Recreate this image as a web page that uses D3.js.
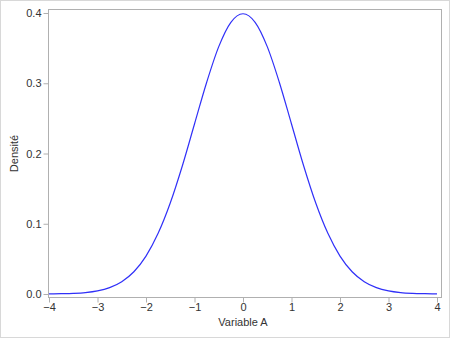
<!DOCTYPE html>
<html>
<head>
<meta charset="utf-8">
<script src="https://cdn.jsdelivr.net/npm/d3@7"></script>
<style>
  body { margin: 0; background: #fff; }
  svg { display: block; font-family: "Liberation Sans", Arial, sans-serif; }
</style>
</head>
<body>
<div id="chart"></div>
<script>
// --- valeurs
const xValues = [-4, -3.75, -3.5, -3.25, -3, -2.75, -2.5, -2.25, -2, -1.75, -1.5, -1.25, -1, -0.75, -0.5, -0.25,
                 0, 0.25, 0.5, 0.75, 1, 1.25, 1.5, 1.75, 2, 2.25, 2.5, 2.75, 3, 3.25, 3.5, 3.75, 4]
const densites = [0.0001, 0.0004, 0.0009, 0.0020, 0.0044, 0.0091, 0.0175, 0.0317, 0.0540, 0.0863, 0.1295, 0.1826,
                  0.2420, 0.3011, 0.3521, 0.3867, 0.3989, 0.3867, 0.3521, 0.3011, 0.2420, 0.1826, 0.1295, 0.0863,
                  0.0540, 0.0317, 0.0175, 0.0091, 0.0044, 0.0020, 0.0009, 0.0004, 0.0001]
const xTicks = [-4, -3, -2, -1, 0, 1, 2, 3, 4]
const yTicks = [0.0, 0.1, 0.2, 0.3, 0.4]

const width = 450, height = 338
const frame = { left: 48, top: 9, right: 441, bottom: 297 }

const svg = d3.select("#chart")
              .append("svg")
              .attr("width", width)
              .attr("height", height)

// cadre extérieur
svg.append("rect")
   .attr("x", 0.5).attr("y", 0.5)
   .attr("width", width - 1).attr("height", height - 1)
   .attr("fill", "none")
   .attr("stroke", "#d8d8d8")

const x = d3.scaleLinear().domain([-4, 4]).range([49, 437])
const y = d3.scaleLinear().domain([0, 0.4]).range([294, 13])

// cadre du graphique
svg.append("rect")
   .attr("x", frame.left + 0.5).attr("y", frame.top + 0.5)
   .attr("width", frame.right - frame.left).attr("height", frame.bottom - frame.top)
   .attr("fill", "none")
   .attr("stroke", "#b0b0b0")

const xAxis = svg.append("g")
                 .attr("transform", `translate(0,${frame.bottom + 0.5})`)
                 .call(d3.axisBottom(x).tickValues(xTicks).tickFormat(d3.format("d")).tickSize(5).tickSizeOuter(0))
const yAxis = svg.append("g")
                 .attr("transform", `translate(${frame.left + 0.5},0)`)
                 .call(d3.axisLeft(y).tickValues(yTicks).tickFormat(d3.format(".1f")).tickSize(5).tickSizeOuter(0))

;[xAxis, yAxis].forEach(ax => {
  ax.select(".domain").remove()
  ax.selectAll(".tick line").attr("stroke", "#b0b0b0")
  ax.selectAll(".tick text").attr("fill", "#333").style("font-size", "11px")
})
xAxis.selectAll(".tick text").attr("dy", "0.71em").attr("y", 6)
yAxis.selectAll(".tick text").attr("x", -7)

// titres des axes
svg.append("text")
   .attr("x", x(0)).attr("y", 326)
   .attr("text-anchor", "middle")
   .attr("fill", "#333")
   .style("font-size", "11px")
   .text("Variable A")
svg.append("text")
   .attr("transform", `translate(18,${(13 + 294) / 2}) rotate(-90)`)
   .attr("text-anchor", "middle")
   .attr("fill", "#333")
   .style("font-size", "11px")
   .text("Densité")

// courbe
const line = d3.line()
               .x((d, i) => x(xValues[i]))
               .y(d => y(d))
               .curve(d3.curveMonotoneX)
svg.append("path")
   .datum(densites)
   .attr("fill", "none")
   .attr("stroke", "#3030f8")
   .attr("stroke-width", 1.2)
   .attr("d", line)
</script>
</body>
</html>
